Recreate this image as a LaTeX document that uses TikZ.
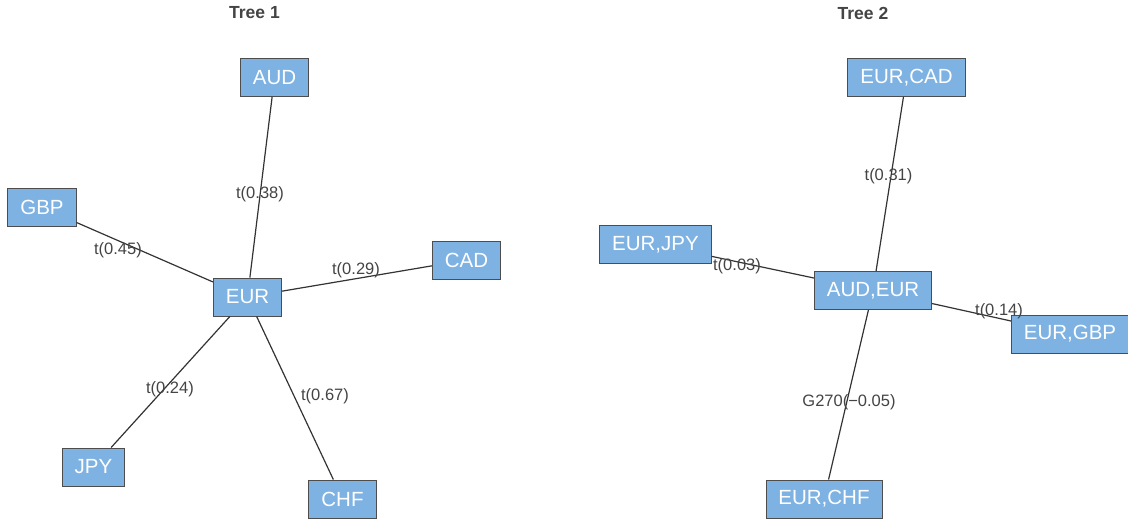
\documentclass[tikz,border=0pt]{standalone}
\usepackage{fontspec}
\setmainfont{Liberation Sans}
\usetikzlibrary{positioning}
\definecolor{boxblue}{HTML}{7EB2E3}
\definecolor{boxline}{HTML}{4D4D4D}
\definecolor{edgegray}{HTML}{333333}
\definecolor{labelgray}{HTML}{444444}

\begin{document}
\begin{tikzpicture}[x=1pt, y=-1pt,
    var/.style={draw=boxline, fill=boxblue, text=white, line width=0.9pt,
        font=\fontsize{20.5}{20.5}\selectfont, minimum height=38pt, inner xsep=12.5pt},
    edgelbl/.style={text=labelgray, font=\fontsize{16.5}{16.5}\selectfont, inner sep=0pt},
    treetitle/.style={text=labelgray, font=\bfseries\fontsize{17.5}{17.5}\selectfont, inner sep=0pt},
    tie/.style={draw=edgegray, line width=1.2pt}]

        % Frame
        \useasboundingbox (0,0) rectangle (1128,519);

        % Titles
        \node[treetitle] (title1) at (254.5,13) {Tree 1};
        \node[treetitle] (title2) at (863,13) {Tree 2};

        % Tree 1 Nodes
        \node[var] (eur) at (247.5,297) {EUR};
        \node[var] (aud) at (274.5,77.5) {AUD};
        \node[var] (gbp) at (42,207.5) {GBP};
        \node[var] (cad) at (466.5,260) {CAD};
        \node[var] (jpy) at (93.5,467) {JPY};
        \node[var] (chf) at (342.5,499) {CHF};

        % Tree 2 Nodes
        \node[var] (audeur) at (873,290.5) {AUD,EUR};
        \node[var] (eurcad) at (906.5,77.5) {EUR,CAD};
        \node[var] (eurjpy) at (655.5,244.5) {EUR,JPY};
        \node[var] (eurgbp) at (1070,334) {EUR,GBP};
        \node[var] (eurchf) at (824,499) {EUR,CHF};

        % Tree 1 Edges
        \foreach \leaf/\txt/\lx/\ly in {aud/t(0.38)/260/194, gbp/t(0.45)/118/250,
                cad/t(0.29)/356/270, jpy/t(0.24)/170/389, chf/t(0.67)/325/396} {
            \draw[tie] (eur) -- (\leaf);
            \node[edgelbl] (lab-\leaf) at (\lx,\ly) {\txt};
        }

        % Tree 2 Edges
        \foreach \leaf/\txt/\lx/\ly in {eurcad/t(0.31)/888.5/176, eurjpy/t(0.03)/737/266,
                eurgbp/t(0.14)/999/311, eurchf/G270(−0.05)/849/402} {
            \draw[tie] (audeur) -- (\leaf);
            \node[edgelbl] (lab-\leaf) at (\lx,\ly) {\txt};
        }

\end{tikzpicture}
\end{document}
